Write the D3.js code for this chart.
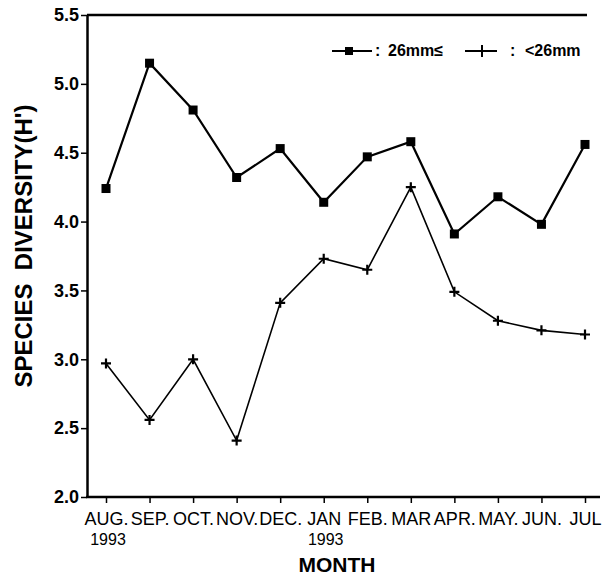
<!DOCTYPE html>
<html>
<head>
<meta charset="utf-8">
<script src="https://d3js.org/d3.v7.min.js"></script>
<style>
  body { margin: 0; background: #fff; }
  svg { display: block; font-family: "Liberation Sans", Arial, sans-serif; }
</style>
</head>
<body>
<div id="chart"></div>
<script>
// months along the x axis
const months = ["AUG.", "SEP.", "OCT.", "NOV.", "DEC.", "JAN", "FEB.", "MAR", "APR.", "MAY.", "JUN.", "JUL"];
// species diversity H', fish 26mm and larger (squares)
const large = [4.24, 5.15, 4.81, 4.32, 4.53, 4.14, 4.47, 4.58, 3.91, 4.18, 3.98, 4.56];
// species diversity H', fish smaller than 26mm (crosses)
const small = [2.97, 2.56, 3.00, 2.41, 3.41, 3.73, 3.65, 4.25, 3.49, 3.28, 3.21, 3.18];
const yTicks = [2.0, 2.5, 3.0, 3.5, 4.0, 4.5, 5.0, 5.5];
const yearLabels = [{ month: "AUG.", text: "1993" }, { month: "JAN", text: "1993" }];

const width = 604, height = 578;
const svg = d3.select("#chart").append("svg")
  .attr("width", width)
  .attr("height", height);

const x = d3.scalePoint().domain(months).range([106, 585]);
const y = d3.scaleLinear().domain([2, 5.5]).range([497, 15]);
const axisX = 87;

// frame: top line, left axis, bottom axis
svg.append("line")
  .attr("x1", axisX).attr("x2", 587)
  .attr("y1", y(5.5)).attr("y2", y(5.5))
  .attr("stroke", "#000").attr("stroke-width", 2.5);

const yAxis = svg.append("g")
  .attr("transform", `translate(${axisX},0)`)
  .call(d3.axisLeft(y).tickValues(yTicks).tickFormat(d3.format(".1f")).tickSize(6).tickSizeOuter(0).tickPadding(2));
yAxis.select(".domain").attr("stroke-width", 2.5);
yAxis.selectAll(".tick line").attr("stroke-width", 1.5);
yAxis.selectAll(".tick text")
  .attr("font-size", 18).attr("font-weight", "bold")
  .attr("font-family", "'Liberation Sans', Arial, sans-serif")
  .attr("fill", "#000");

const xAxis = svg.append("g")
  .attr("transform", `translate(0,${y(2)})`)
  .call(d3.axisBottom(x).tickSize(6).tickPadding(9));
xAxis.select(".domain").remove();
xAxis.selectAll(".tick line").attr("stroke-width", 1.5);
xAxis.selectAll(".tick text")
  .attr("font-size", 18)
  .attr("font-family", "'Liberation Sans', Arial, sans-serif")
  .attr("fill", "#000");
svg.append("line")
  .attr("x1", axisX - 1).attr("x2", 600)
  .attr("y1", y(2)).attr("y2", y(2))
  .attr("stroke", "#000").attr("stroke-width", 2.5);

svg.selectAll(".year")
  .data(yearLabels)
  .join("text")
  .attr("class", "year")
  .attr("x", d => x(d.month) + 2)
  .attr("y", 545)
  .attr("text-anchor", "middle")
  .attr("font-size", 16)
  .text(d => d.text);

// axis titles
svg.append("text")
  .attr("x", 337).attr("y", 572)
  .attr("text-anchor", "middle")
  .attr("font-size", 21).attr("font-weight", "bold")
  .text("MONTH");

svg.append("text")
  .attr("transform", "translate(32,246) rotate(-90)")
  .attr("text-anchor", "middle")
  .attr("font-size", 24).attr("font-weight", "bold")
  .attr("xml:space", "preserve")
  .text("SPECIES  DIVERSITY(H')");

// lines
const line = d3.line().x((d, i) => x(months[i])).y(d => y(d));

svg.append("path")
  .datum(large)
  .attr("d", line)
  .attr("fill", "none").attr("stroke", "#000").attr("stroke-width", 2.2);

svg.append("path")
  .datum(small)
  .attr("d", line)
  .attr("fill", "none").attr("stroke", "#000").attr("stroke-width", 1.6);

// markers
const sq = 9;
svg.selectAll(".sq")
  .data(large)
  .join("rect")
  .attr("class", "sq")
  .attr("x", (d, i) => x(months[i]) - sq / 2)
  .attr("y", d => y(d) - sq / 2)
  .attr("width", sq).attr("height", sq)
  .attr("fill", "#000");

const cross = "M-5,0H5M0,-5V5";
svg.selectAll(".cr")
  .data(small)
  .join("path")
  .attr("class", "cr")
  .attr("transform", (d, i) => `translate(${x(months[i])},${y(d)})`)
  .attr("d", cross)
  .attr("stroke", "#000").attr("stroke-width", 2.2);

// legend
const lg = svg.append("g").attr("font-size", 16).attr("font-weight", "bold");
lg.append("line").attr("x1", 332).attr("x2", 372).attr("y1", 51).attr("y2", 51)
  .attr("stroke", "#000").attr("stroke-width", 2);
lg.append("rect").attr("x", 345).attr("y", 47).attr("width", 8).attr("height", 8).attr("fill", "#000");
lg.append("text").attr("x", 375).attr("y", 56).text(":");
lg.append("text").attr("x", 388).attr("y", 56).text("26mm\u2264");
lg.append("line").attr("x1", 465).attr("x2", 497).attr("y1", 51).attr("y2", 51)
  .attr("stroke", "#000").attr("stroke-width", 2);
lg.append("path").attr("transform", "translate(482,51)").attr("d", "M0,-6V6")
  .attr("stroke", "#000").attr("stroke-width", 2);
lg.append("text").attr("x", 510).attr("y", 56).text(":");
lg.append("text").attr("x", 525).attr("y", 56).text("<26mm");
</script>
</body>
</html>
